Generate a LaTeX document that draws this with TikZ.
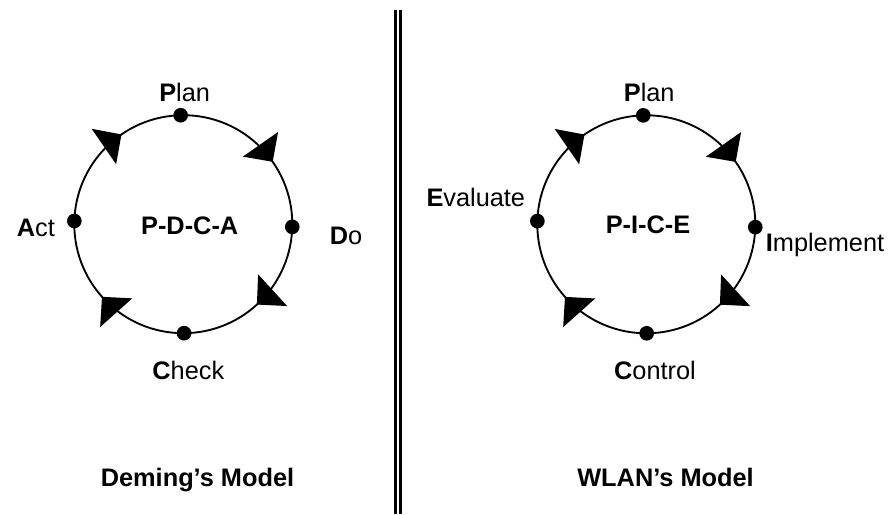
\documentclass[tikz,border=0pt]{standalone}
\usepackage{fontspec}
\setmainfont{Liberation Sans}
\usetikzlibrary{arrows.meta,decorations.markings}

\tikzset{
	lbl/.style={anchor=base, inner sep=0pt, font=\fontsize{19}{22}\selectfont},
	ttl/.style={lbl, font=\fontsize{19}{22}\selectfont\bfseries},
	dot/.style={circle, fill=black, inner sep=0pt, minimum size=11pt},
	cycle/.style={line width=1.4pt, postaction={decorate},
		decoration={markings,
			mark=at position 0.097 with {\arrowreversed{Triangle[length=16pt,width=32pt]}},
			mark=at position 0.346 with {\arrowreversed{Triangle[length=16pt,width=32pt]}},
			mark=at position 0.616 with {\arrowreversed{Triangle[length=16pt,width=32pt]}},
			mark=at position 0.868 with {\arrowreversed{Triangle[length=16pt,width=32pt]}}}}
}

\begin{document}
\begin{tikzpicture}[x=0.75pt,y=0.75pt]
	\useasboundingbox (0,0) rectangle (892,514);

	% Deming
	\coordinate (cL) at (183.3,289.8);
	\draw[cycle] (cL) circle[radius=81.75pt];
	\begin{scope}[shift={(cL)}]
		\node[dot] (planL) at (91.4:81.75pt) {};
		\node[dot] (doL) at (-1.4:81.75pt) {};
		\node[dot] (checkL) at (-89.6:81.75pt) {};
		\node[dot] (actL) at (178.3:81.75pt) {};
	\end{scope}
	\node[lbl] (planLtxt) at (184.7,412.3) {\textbf{P}lan};
	\node[lbl] (doLtxt) at (346,269) {\textbf{D}o};
	\node[lbl] (checkLtxt) at (188.3,134) {\textbf{C}heck};
	\node[lbl] (actLtxt) at (35.8,277.3) {\textbf{A}ct};
	\node[ttl] (pdca) at (189.7,279.7) {P-D-C-A};
	\node[ttl] (deming) at (197.5,27.3) {Deming’s Model};

	% separator
	\coordinate (sepTop) at (397.8,504);
	\coordinate (sepBot) at (397.8,0);
	\draw[double, line width=1.9pt, double distance=1.9pt] (sepTop) -- (sepBot);

	% WLAN
	\coordinate (cR) at (646.3,289.7);
	\draw[cycle] (cR) circle[radius=81.75pt];
	\begin{scope}[shift={(cR)}]
		\node[dot] (planR) at (91.6:81.75pt) {};
		\node[dot] (implR) at (-1.5:81.75pt) {};
		\node[dot] (ctrlR) at (-89.8:81.75pt) {};
		\node[dot] (evalR) at (178.3:81.75pt) {};
	\end{scope}
	\node[lbl] (planRtxt) at (649.2,412) {\textbf{P}lan};
	\node[lbl] (implRtxt) at (825,262.3) {\textbf{I}mplement};
	\node[lbl] (ctrlRtxt) at (655,134) {\textbf{C}ontrol};
	\node[lbl] (evalRtxt) at (475.8,307.3) {\textbf{E}valuate};
	\node[ttl] (pice) at (648,280.5) {P-I-C-E};
	\node[ttl] (wlan) at (665.5,27.3) {WLAN’s Model};
\end{tikzpicture}
\end{document}
